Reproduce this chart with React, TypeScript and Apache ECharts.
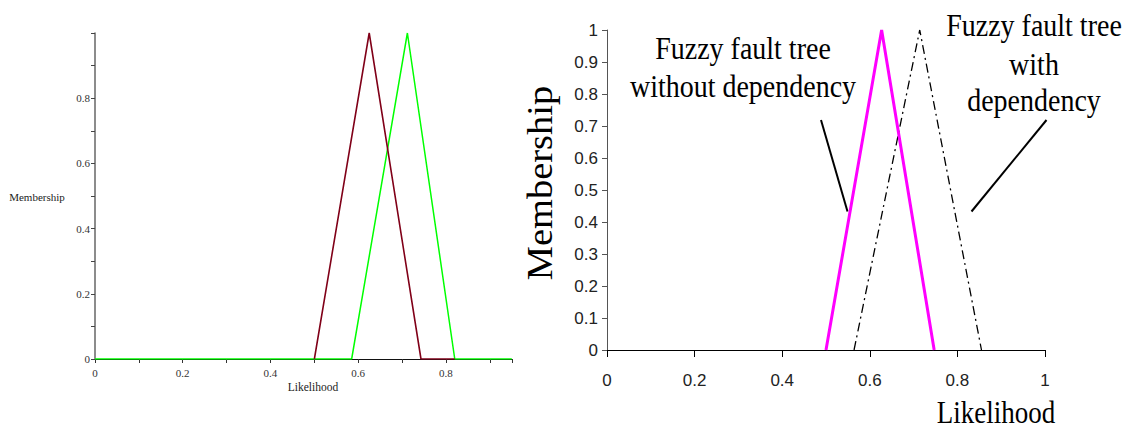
import React, { useEffect, useRef } from "react";
import * as echarts from "echarts";

// Left panel (Maple-style) data
const leftNoDep: [number, number][] = [[0.5, 0], [0.625, 1], [0.743, 0], [0.82, 0]];
const leftWithDep: [number, number][] = [[0, 0], [0.585, 0], [0.712, 1], [0.82, 0], [0.95, 0]];
// Right panel (Excel-style) data
const rightNoDep: [number, number][] = [[0.5, 0], [0.627, 1], [0.747, 0]];
const rightWithDep: [number, number][] = [[0.564, 0], [0.714, 1], [0.855, 0]];

const leftXLabels = ["0", "0.2", "0.4", "0.6", "0.8"];
const leftYLabels = ["0", "0.2", "0.4", "0.6", "0.8"];
const rightYLabels = ["0", "0.1", "0.2", "0.3", "0.4", "0.5", "0.6", "0.7", "0.8", "0.9", "1"];
const rightXLabels = ["0", "0.2", "0.4", "0.6", "0.8", "1"];

const SERIF = "'Liberation Serif', 'Times New Roman', serif";
const SANS = "'Liberation Sans', Arial, sans-serif";

function fmtFrom(list: string[]) {
  return (v: number) => {
    const s = String(Math.round(v * 10) / 10);
    return list.includes(s) ? s : "";
  };
}

function bigText(text: string, x: number, y: number, size = 28) {
  return {
    type: "text", x, y, scaleY: 1.15,
    style: { text, font: `${size}px ${SERIF}`, fill: "#000", textAlign: "center", textVerticalAlign: "middle" },
  };
}

export default function App() {
  const ref = useRef<HTMLDivElement>(null);
  useEffect(() => {
    if (!ref.current) return;
    const chart = echarts.init(ref.current, undefined, { renderer: "svg" });
    chart.setOption({
      animation: false,
      backgroundColor: "#ffffff",
      grid: [
        { left: 95, top: 33, width: 416.8, height: 326 },
        { left: 607, top: 30, width: 438, height: 320 },
      ],
      xAxis: [
        {
          type: "value", gridIndex: 0, min: 0, max: 0.95, interval: 0.1,
          splitLine: { show: false },
          axisLine: { lineStyle: { color: "#111", width: 1 } },
          axisTick: { length: 4, lineStyle: { color: "#333" } },
          axisLabel: { formatter: fmtFrom(leftXLabels), fontFamily: SERIF, fontSize: 11, color: "#333", margin: 8 },
        },
        {
          type: "value", gridIndex: 1, min: 0, max: 1, interval: 0.2,
          splitLine: { show: false },
          axisLine: { lineStyle: { color: "#000", width: 1 } },
          axisTick: { length: 7, lineStyle: { color: "#000" } },
          axisLabel: { formatter: fmtFrom(rightXLabels), fontFamily: SANS, fontSize: 17, color: "#222", margin: 22 },
        },
      ],
      yAxis: [
        {
          type: "value", gridIndex: 0, min: 0, max: 1, interval: 0.1,
          splitLine: { show: false },
          axisLine: { lineStyle: { color: "#666", width: 1.5 } },
          axisTick: { length: 4, lineStyle: { color: "#444" } },
          axisLabel: { formatter: fmtFrom(leftYLabels), fontFamily: SERIF, fontSize: 11, color: "#333", margin: 5 },
        },
        {
          type: "value", gridIndex: 1, min: 0, max: 1, interval: 0.1,
          splitLine: { show: false },
          axisLine: { lineStyle: { color: "#555", width: 1 } },
          axisTick: { length: 5, lineStyle: { color: "#555" } },
          axisLabel: { formatter: fmtFrom(rightYLabels), fontFamily: SANS, fontSize: 17, color: "#222", margin: 9 },
        },
      ],
      series: [
        {
          type: "line", xAxisIndex: 0, yAxisIndex: 0, data: leftWithDep, symbol: "none",
          lineStyle: { color: "#00ff00", width: 1.5 },
        },
        {
          type: "line", xAxisIndex: 0, yAxisIndex: 0, data: leftNoDep, symbol: "none",
          lineStyle: { color: "#800018", width: 1.6 },
        },
        {
          type: "line", xAxisIndex: 1, yAxisIndex: 1, data: rightWithDep, symbol: "none",
          lineStyle: { color: "#000000", width: 1.3, type: [9, 4, 2, 4] },
        },
        {
          type: "line", xAxisIndex: 1, yAxisIndex: 1, data: rightNoDep, symbol: "none",
          lineStyle: { color: "#ff00ff", width: 3 },
        },
      ],
      graphic: [
        { type: "text", x: 37, y: 197, style: { text: "Membership", font: `11px ${SERIF}`, fill: "#222", textAlign: "center", textVerticalAlign: "middle" } },
        { type: "text", x: 313, y: 387, style: { text: "Likelihood", font: `11.5px ${SERIF}`, fill: "#222", textAlign: "center", textVerticalAlign: "middle" } },
        { type: "text", x: 540, y: 183, rotation: Math.PI / 2, scaleX: 1.07, style: { text: "Membership", font: `36px ${SERIF}`, fill: "#000", textAlign: "center", textVerticalAlign: "middle" } },
        bigText("Likelihood", 996, 412, 27),
        bigText("Fuzzy fault tree", 743, 48),
        bigText("without dependency", 743, 86),
        bigText("Fuzzy fault tree", 1034, 25),
        bigText("with", 1034, 64),
        bigText("dependency", 1034, 100),
        { type: "line", shape: { x1: 821, y1: 120, x2: 847.5, y2: 211.5 }, style: { stroke: "#000", lineWidth: 2 } },
        { type: "line", shape: { x1: 1046.5, y1: 120, x2: 971.5, y2: 211.5 }, style: { stroke: "#000", lineWidth: 2 } },
      ],
    });
    return () => chart.dispose();
  }, []);
  return (
    <div
      ref={ref}
      style={{ position: "absolute", left: 0, top: 0, width: 1133, height: 432, background: "#fff" }}
    />
  );
}
